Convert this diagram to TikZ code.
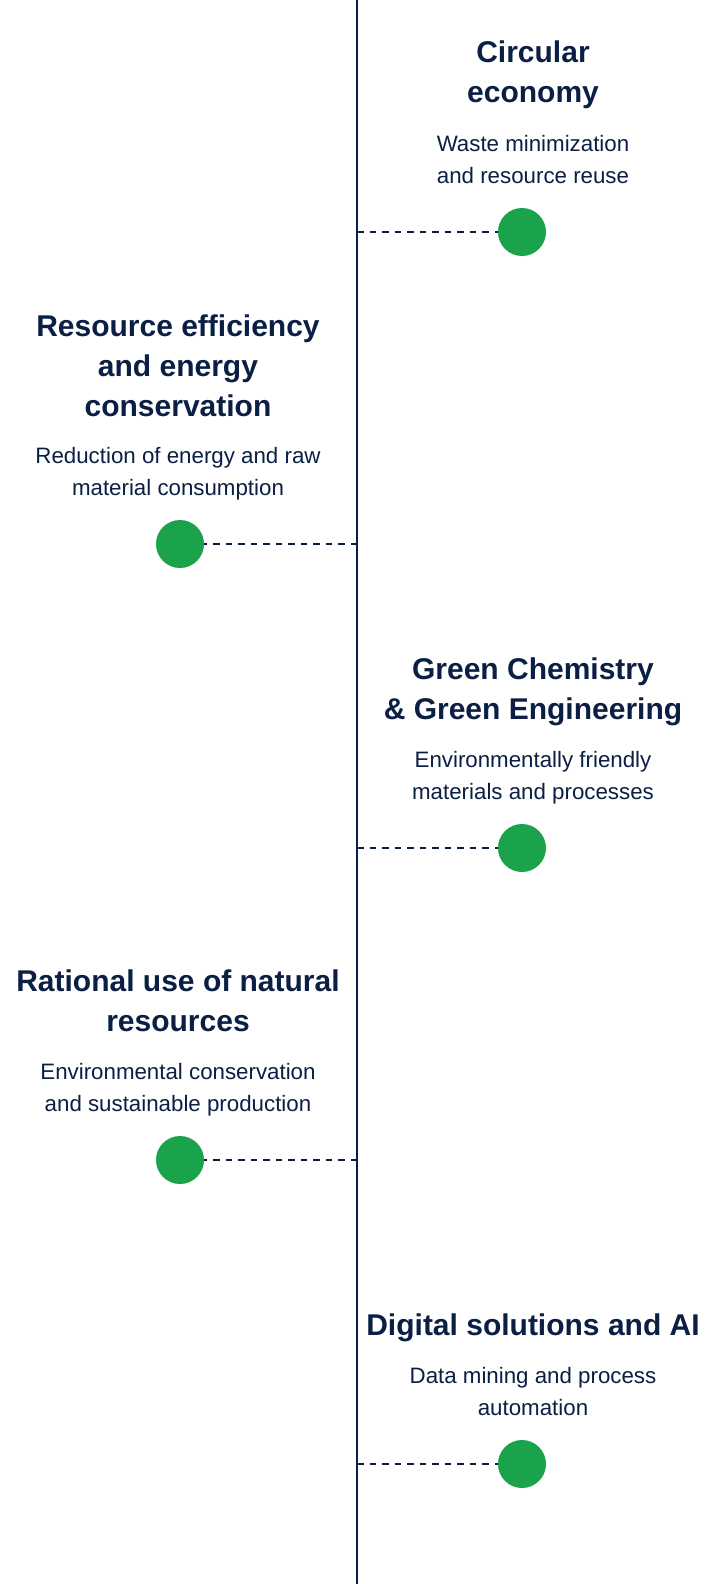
\documentclass[tikz,border=0pt]{standalone}
\usepackage{fontspec}
\setmainfont{Liberation Sans}
\usetikzlibrary{positioning}

\definecolor{navy}{HTML}{0B1F45}
\definecolor{dotgreen}{HTML}{1AA34A}

\tikzset{
    dot/.style={circle, fill=dotgreen, minimum size=48pt, inner sep=0pt},
    headline/.style={font=\fontsize{30}{40}\selectfont\bfseries, text=navy,
                     align=center, inner sep=0pt, anchor=base},
    blurb/.style={font=\fontsize{22.3}{31.5}\selectfont, text=navy,
                  align=center, inner sep=0pt, anchor=base},
    spine/.style={draw=navy, line width=2pt},
    link/.style={draw=navy, line width=1.8pt, dash pattern=on 6.5pt off 6pt}
}

\begin{document}
\begin{tikzpicture}[x=1pt, y=-1pt]
    % page
    \useasboundingbox[fill=white] (0,0) rectangle (714,1584);

    % the spine
    \coordinate (top) at (357,0);
    \coordinate (bottom) at (357,1584);
    \draw[spine] (top) -- (bottom);

    % circular economy
    \node[dot] (d1) at (522,232) {};
    \node[blurb] (b1) at (533,183) {Waste minimization\\ and resource reuse};
    \node[headline] (h1) at (533,103) {Circular\\ economy};
    \coordinate (s1) at (357,232);
    \draw[link] (s1) -- (d1);

    % resource efficiency
    \node[dot] (d2) at (180,544) {};
    \node[blurb] (b2) at (178,495) {Reduction of energy and raw\\ material consumption};
    \node[headline] (h2) at (178,416) {Resource efficiency\\ and energy\\ conservation};
    \coordinate (s2) at (357,544);
    \draw[link] (s2) -- (d2);

    % green chemistry
    \node[dot] (d3) at (522,848) {};
    \node[blurb] (b3) at (533,799) {Environmentally friendly\\ materials and processes};
    \node[headline] (h3) at (533,719) {Green Chemistry\\ \& Green Engineering};
    \coordinate (s3) at (357,848);
    \draw[link] (s3) -- (d3);

    % natural resources
    \node[dot] (d4) at (180,1160) {};
    \node[blurb] (b4) at (178,1111) {Environmental conservation\\ and sustainable production};
    \node[headline] (h4) at (178,1031) {Rational use of natural\\ resources};
    \coordinate (s4) at (357,1160);
    \draw[link] (s4) -- (d4);

    % digital
    \node[dot] (d5) at (522,1464) {};
    \node[blurb] (b5) at (533,1415) {Data mining and process\\ automation};
    \node[headline] (h5) at (533,1335) {Digital solutions and AI};
    \coordinate (s5) at (357,1464);
    \draw[link] (s5) -- (d5);
\end{tikzpicture}
\end{document}
